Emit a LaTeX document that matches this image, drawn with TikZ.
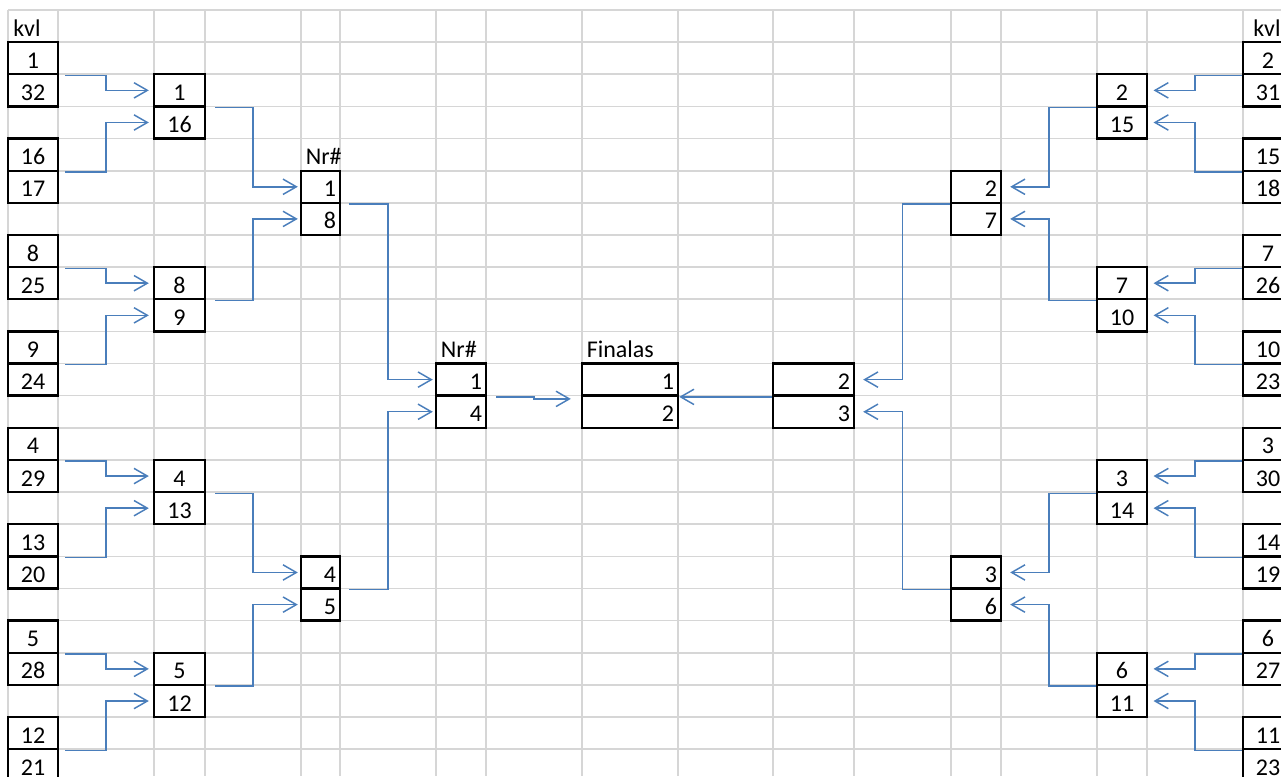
\documentclass[tikz,border=0pt]{standalone}
\usepackage{fontspec}
\setmainfont{Carlito}
\usepackage{tikz}
\usetikzlibrary{arrows.meta,calc}
\definecolor{conblue}{RGB}{74,126,187}
\definecolor{gridgray}{RGB}{214,214,214}
\newcommand{\cellfont}{\fontsize{18}{21}\selectfont}
\newcommand{\ry}[1]{26.07+32.14*#1}% centre of sheet row #1
\tikzset{
  >={Straight Barb[length=10pt,width=11.5pt]},
  gridline/.style={draw=gridgray, line width=1.2pt},
  cell/.style   ={rectangle, draw, line width=1.8pt, minimum height=24.1pt,
                  inner xsep=3pt, inner ysep=0pt, text height=15pt,
                  text depth=0pt, font=\cellfont},
  ccell/.style  ={cell, minimum width=#1, align=center},
  rcell/.style  ={cell, text width=#1, align=right},
  lbl/.style    ={font=\cellfont, anchor=base west, inner sep=0pt},
  con/.style    ={->, draw=conblue, line width=1.1pt},
}

\begin{document}
\begin{tikzpicture}[x=0.75pt,y=-0.75pt]
\useasboundingbox (0,0) rectangle (1281,776);
% ---- sheet grid -----------------------------------------------------
\foreach \gx in {8,58,154,205,301,340,436,486,582,678,773,854,951,1001,1097,1147,1243}
  \draw[gridline] (\gx,10) -- (\gx,776);
\foreach \k in {0,...,23}
  \draw[gridline] (8,{10+32.14*\k}) -- (1281,{10+32.14*\k});

% ---- headings -------------------------------------------------------
\node[lbl] (kvlL) at (13,36)      {kvl};
\node[lbl] (kvlR) at (1253,36)    {kvl};
\node[lbl] (nrB)  at (305.5,164.7) {Nr\#};
\node[lbl] (nrS)  at (440.7,357.5) {Nr\#};
\node[lbl] (fin)  at (586.5,357.5) {Finalas};

% ---- left half ------------------------------------------------------
\foreach \i/\hi/\lo/\k in {1/1/32/1,2/16/17/4,3/8/25/7,4/9/24/10,
                           5/4/29/13,6/13/20/16,7/5/28/19,8/12/21/22} {
  \node[ccell=37.5pt] (lk\i u) at (33,\ry{\k})       {\hi};
  \node[ccell=37.5pt] (lk\i d) at (33,\ry{\k}+32.14) {\lo};
}
\foreach \i/\hi/\lo/\k in {1/1/16/2,2/8/9/8,3/4/13/14,4/5/12/20} {
  \node[ccell=38.25pt] (la\i u) at (179.5,\ry{\k})       {\hi};
  \node[ccell=38.25pt] (la\i d) at (179.5,\ry{\k}+32.14) {\lo};
}
\node[rcell=23.25pt] (lb1u) at (320.5,\ry{5})  {1};
\node[rcell=23.25pt] (lb1d) at (320.5,\ry{6})  {8};
\node[rcell=23.25pt] (lb2u) at (320.5,\ry{17}) {4};
\node[rcell=23.25pt] (lb2d) at (320.5,\ry{18}) {5};
\node[rcell=31.5pt]  (lsu)  at (461,\ry{11})   {1};
\node[rcell=31.5pt]  (lsd)  at (461,\ry{12})   {4};

% ---- final ----------------------------------------------------------
\node[rcell=66pt] (fu) at (630,\ry{11}) {1};
\node[rcell=66pt] (fd) at (630,\ry{12}) {2};

% ---- right half -----------------------------------------------------
\node[rcell=54.75pt] (rsu)  at (813.5,\ry{11}) {2};
\node[rcell=54.75pt] (rsd)  at (813.5,\ry{12}) {3};
\node[rcell=31.5pt]  (rb1u) at (976,\ry{5})    {2};
\node[rcell=31.5pt]  (rb1d) at (976,\ry{6})    {7};
\node[rcell=31.5pt]  (rb2u) at (976,\ry{17})   {3};
\node[rcell=31.5pt]  (rb2d) at (976,\ry{18})   {6};
\foreach \i/\hi/\lo/\k in {1/2/15/2,2/7/10/8,3/3/14/14,4/6/11/20} {
  \node[ccell=37.5pt] (ra\i u) at (1122,\ry{\k})       {\hi};
  \node[ccell=37.5pt] (ra\i d) at (1122,\ry{\k}+32.14) {\lo};
}
\foreach \i/\hi/\lo/\k in {1/2/31/1,2/15/18/4,3/7/26/7,4/10/23/10,
                           5/3/30/13,6/14/19/16,7/6/27/19,8/11/23/22} {
  \node[ccell=37.5pt] (rk\i u) at (1268,\ry{\k})       {\hi};
  \node[ccell=37.5pt] (rk\i d) at (1268,\ry{\k}+32.14) {\lo};
}

% ---- connectors, left to final ---------------------------------------
\foreach \i/\tg in {1/1u,2/1d,3/2u,4/2d,5/3u,6/3d,7/4u,8/4d}
  \draw[con, shorten <=4.5pt, shorten >=3pt] (lk\i u.south east)
    -| ($(lk\i u.south east)!0.5!(la\tg.west)$) |- (la\tg.west);
\foreach \i/\tg in {1/1u,2/1d,3/2u,4/2d}
  \draw[con, shorten <=6.75pt, shorten >=1.5pt] (la\i u.south east)
    -| ($(la\i u.south east)!0.5!(lb\tg.west)$) |- (lb\tg.west);
\draw[con, shorten <=6pt, shorten >=1.5pt] (lb1u.south east)
  -| ($(lb1u.south east)!0.5!(lsu.west)$) |- (lsu.west);
\draw[con, shorten <=6pt, shorten >=1.5pt] (lb2u.south east)
  -| ($(lb2u.south east)!0.5!(lsd.west)$) |- (lsd.west);
\draw[con, shorten <=6.75pt, shorten >=7.5pt] (lsu.south east)
  -| ($(lsu.south east)!0.5!(fu.south west)+(0,2)$) |- ($(fu.south west)+(0,2)$);

% ---- connectors, right to final --------------------------------------
\foreach \i/\tg in {1/1u,2/1d,3/2u,4/2d,5/3u,6/3d,7/4u,8/4d}
  \draw[con, shorten >=4pt] (rk\i u.south west)
    -| ($(rk\i u.south west)!0.5!(ra\tg.east)$) |- (ra\tg.east);
\foreach \i/\tg in {1/1u,2/1d,3/2u,4/2d}
  \draw[con, shorten >=6pt] (ra\i u.south west)
    -| ($(ra\i u.south west)!0.5!(rb\tg.east)$) |- (rb\tg.east);
\draw[con, shorten >=6pt] (rb1u.south west)
  -| ($(rb1u.south west)!0.5!(rsu.east)$) |- (rsu.east);
\draw[con, shorten >=6pt] (rb2u.south west)
  -| ($(rb2u.south west)!0.5!(rsd.east)$) |- (rsd.east);
\draw[con] (rsu.south west) -- (fu.south east);
\end{tikzpicture}
\end{document}
